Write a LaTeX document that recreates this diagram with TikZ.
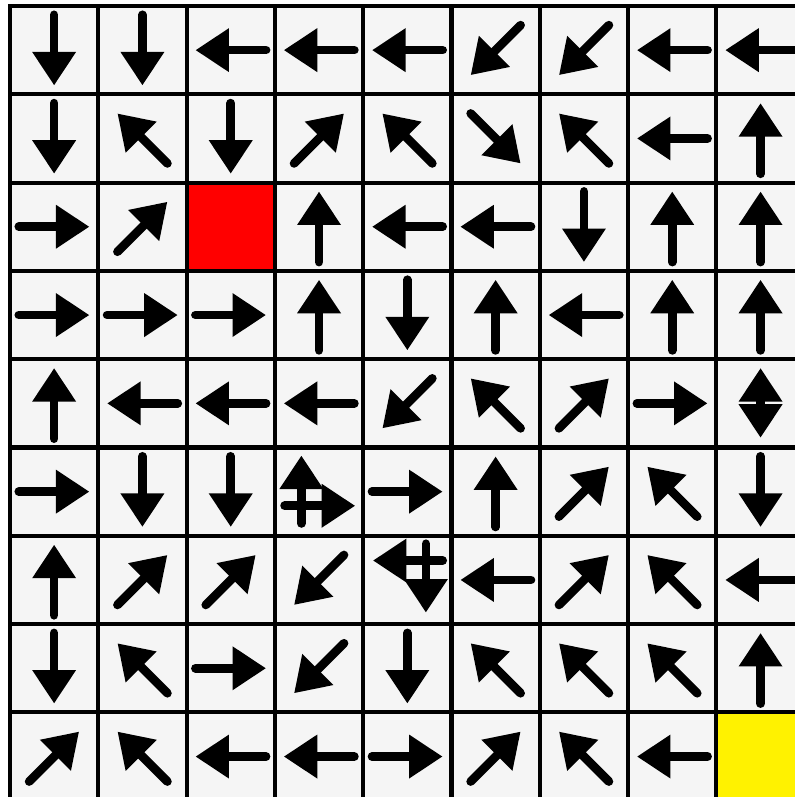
\documentclass[tikz,border=0pt]{standalone}
\usepackage{tikz}
\usetikzlibrary{arrows.meta}
\definecolor{cellgray}{HTML}{F5F5F5}

\begin{document}
\begin{tikzpicture}[
  >={Triangle[length=3.8mm,width=4.7mm]},
  cell/.style={rectangle, draw, line width=1.3pt, fill=cellgray,
               minimum size=1cm, inner sep=0pt},
  arr/.style={->, line width=2.8pt, line cap=round}
]
  \useasboundingbox (-0.113,0.068) rectangle (8.890,-8.958);
  \fill[white] (-0.113,0.068) rectangle (8.890,-8.958);
  \clip (-0.113,0.068) rectangle (8.890,-8.958);
  % grid of cells
  \foreach \r in {1,...,9}
    \foreach \c in {1,...,9}
      \node[cell] (c-\r-\c) at (\c-0.5,0.5-\r) {};
  \node[cell, fill=red] (rd) at (c-3-3) {};
  \node[cell, fill=yellow] (yw) at (c-9-9) {};
  % one arrow per cell, angle in degrees (-1 = none)
  \foreach \r/\angs in {
      1/{270,270,180,180,180,225,225,180,180},
      2/{270,135,270,45,135,315,135,180,90},
      3/{0,45,-1,90,180,180,270,90,90},
      4/{0,0,0,90,270,90,180,90,90},
      5/{90,180,180,180,225,135,45,0,-1},
      6/{0,270,270,-1,0,90,45,135,270},
      7/{90,45,45,225,-1,180,45,135,180},
      8/{270,135,0,225,270,135,135,135,90},
      9/{45,135,180,180,0,45,135,180,-1}} {
    \foreach \a [count=\c] in \angs {
      \ifnum\a<0 \else
        \draw[arr] (c-\r-\c.center) ++(\a+180:0.4) -- ++(\a:0.8);
      \fi
    }
  }
  % cells with two arrows
  \draw[arr,<->] ([yshift=-0.39cm]c-5-9.center) -- ([yshift=0.4cm]c-5-9.center);
  \draw[arr] ([xshift=-0.2cm,yshift=-0.36cm]c-6-4.center) -- ([xshift=-0.2cm,yshift=0.41cm]c-6-4.center);
  \draw[arr] ([xshift=-0.39cm,yshift=-0.16cm]c-6-4.center) -- ([xshift=0.41cm,yshift=-0.16cm]c-6-4.center);
  \draw[arr] ([xshift=0.4cm,yshift=0.22cm]c-7-5.center) -- ([xshift=-0.39cm,yshift=0.22cm]c-7-5.center);
  \draw[arr] ([xshift=0.21cm,yshift=0.41cm]c-7-5.center) -- ([xshift=0.21cm,yshift=-0.37cm]c-7-5.center);
\end{tikzpicture}
\end{document}
